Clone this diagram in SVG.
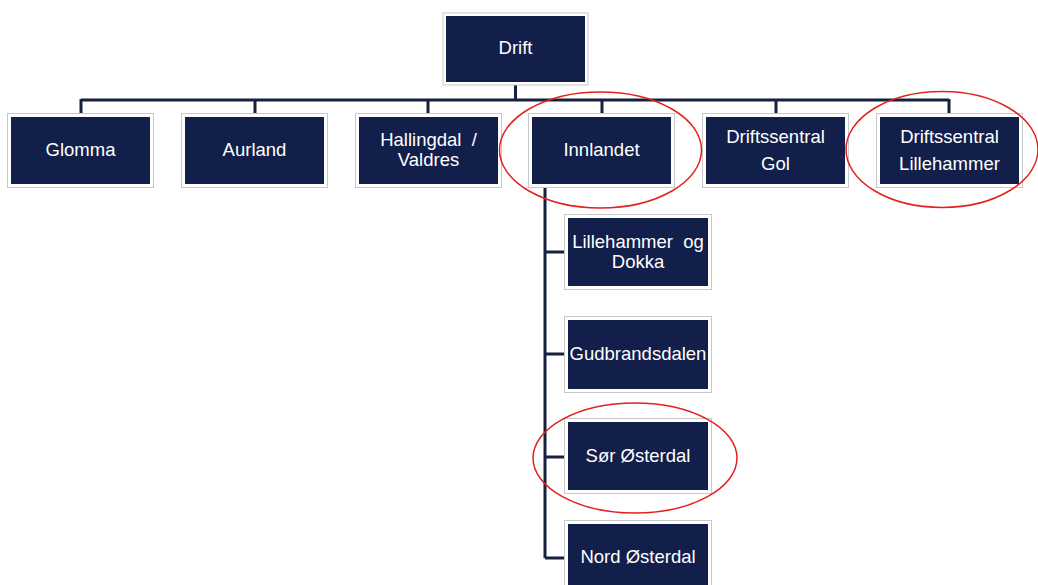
<svg xmlns="http://www.w3.org/2000/svg" width="1038" height="585" viewBox="0 0 1038 585">
<style>
.frame{fill:#ffffff;stroke:#c8c8c8;stroke-width:1}
.box{fill:#121f4b}
.lbl{font-family:"Liberation Sans",Arial,sans-serif;font-size:18.5px;fill:#ffffff;text-anchor:middle;white-space:pre}
.conn{fill:none;stroke:#16213f;stroke-width:3}
.mark{fill:none;stroke:#e3211e;stroke-width:1.5}
</style>
<rect width="1038" height="585" fill="#ffffff"/>
<g id="connectors">
<path class="conn" d="M515.5,85 V100 M81,100 H949 M81,99 V113 M255,99 V113 M428,99 V113 M602,99 V113 M776,99 V113 M949,99 V113"/>
<path class="conn" d="M545,188 V558 M545,252 H565 M545,354 H565 M545,457 H565 M545,558 H565"/>
</g>
<g id="node-drift"><rect class="frame" x="443" y="13" width="145" height="72"/><rect class="box" x="446" y="16" width="139" height="66"/><text class="lbl" x="515.5" y="54">Drift</text></g>
<g id="node-glomma"><rect class="frame" x="7.5" y="113.5" width="146" height="74"/><rect class="box" x="11" y="117" width="139" height="67"/><text class="lbl" x="80.5" y="156">Glomma</text></g>
<g id="node-aurland"><rect class="frame" x="181.5" y="113.5" width="146" height="74"/><rect class="box" x="185" y="117" width="139" height="67"/><text class="lbl" x="254.5" y="156">Aurland</text></g>
<g id="node-hallingdal"><rect class="frame" x="355.5" y="113.5" width="146" height="74"/><rect class="box" x="359" y="117" width="139" height="67"/><text class="lbl" x="428.5" y="146">Hallingdal  /</text><text class="lbl" x="428.5" y="166">Valdres</text></g>
<g id="node-innlandet"><rect class="frame" x="528.5" y="113.5" width="146" height="74"/><rect class="box" x="532" y="117" width="139" height="67"/><text class="lbl" x="601.5" y="156">Innlandet</text></g>
<g id="node-ds-gol"><rect class="frame" x="702.5" y="113.5" width="146" height="74"/><rect class="box" x="706" y="117" width="139" height="67"/><text class="lbl" x="775.5" y="143">Driftssentral</text><text class="lbl" x="775.5" y="170">Gol</text></g>
<g id="node-ds-lillehammer"><rect class="frame" x="876.5" y="113.5" width="146" height="74"/><rect class="box" x="880" y="117" width="139" height="67"/><text class="lbl" x="949.5" y="143">Driftssentral</text><text class="lbl" x="949.5" y="170">Lillehammer</text></g>
<g id="node-lillehammer-dokka"><rect class="frame" x="564.5" y="214.5" width="147" height="75"/><rect class="box" x="568" y="218" width="140" height="68"/><text class="lbl" x="638" y="248">Lillehammer  og</text><text class="lbl" x="638" y="268">Dokka</text></g>
<g id="node-gudbrandsdalen"><rect class="frame" x="564.5" y="316.5" width="147" height="76"/><rect class="box" x="568" y="320" width="140" height="69"/><text class="lbl" x="638" y="360">Gudbrandsdalen</text></g>
<g id="node-sor-osterdal"><rect class="frame" x="564.5" y="418.5" width="147" height="75"/><rect class="box" x="568" y="422" width="140" height="68"/><text class="lbl" x="638" y="462">Sør Østerdal</text></g>
<g id="node-nord-osterdal"><rect class="frame" x="564.5" y="520.5" width="147" height="76"/><rect class="box" x="568" y="524" width="140" height="69"/><text class="lbl" x="638" y="563">Nord Østerdal</text></g>
<g id="highlights">
<ellipse class="mark" cx="600.5" cy="150" rx="101" ry="58"/>
<ellipse class="mark" cx="942" cy="149.5" rx="96" ry="58"/>
<ellipse class="mark" cx="635" cy="458" rx="102" ry="55"/>
</g>
</svg>
